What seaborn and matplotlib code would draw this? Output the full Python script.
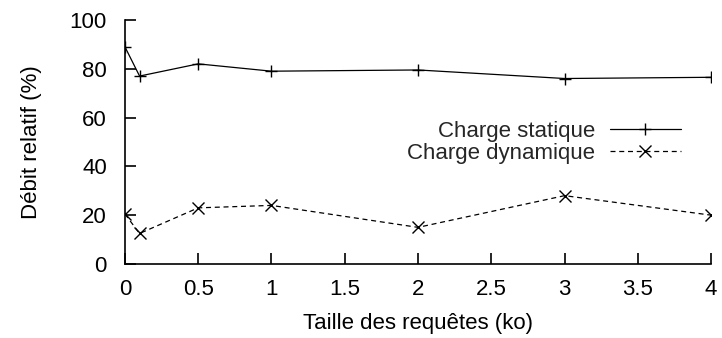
import matplotlib
matplotlib.use("Agg")
import matplotlib.pyplot as plt
import seaborn as sns
import pandas as pd

# Request size (ko) and relative throughput (%) for each load type
taille = [0, 0.1, 0.5, 1, 2, 3, 4]
statique = [89, 77, 82, 79, 79.5, 76, 76.5]
dynamique = [20.5, 12.5, 23, 24, 15, 28, 20]
xticks = [0, 0.5, 1, 1.5, 2, 2.5, 3, 3.5, 4]
xtick_labels = ["0", "0.5", "1", "1.5", "2", "2.5", "3", "3.5", "4"]
yticks = [0, 20, 40, 60, 80, 100]

sns.set_theme(style="ticks")
plt.rcParams["font.family"] = ["Liberation Sans", "DejaVu Sans"]

df_s = pd.DataFrame({"x": taille, "y": statique})
df_d = pd.DataFrame({"x": taille, "y": dynamique})

fig = plt.figure(figsize=(7.22, 3.38), dpi=100)
ax = fig.add_axes([0.173, 0.219, 0.812, 0.722])

sns.lineplot(data=df_s, x="x", y="y", ax=ax, color="black", linewidth=0.9,
             marker="+", markersize=8, markeredgewidth=1.0,
             markeredgecolor="black", markerfacecolor="black",
             label="Charge statique", sort=False)
sns.lineplot(data=df_d, x="x", y="y", ax=ax, color="black", linewidth=0.9,
             marker="x", markersize=8.5, markeredgewidth=1.0,
             markeredgecolor="black", markerfacecolor="black",
             label="Charge dynamique", sort=False)
ax.lines[1].set_dashes([4, 3])

ax.set_xlim(0, 4)
ax.set_ylim(0, 100)
ax.set_xticks(xticks)
ax.set_xticklabels(xtick_labels)
ax.set_yticks(yticks)
ax.tick_params(direction="in", length=8, width=1.2, labelsize=16, colors="black")
ax.tick_params(axis="x", pad=11)
ax.tick_params(axis="y", pad=13)
for side in ("top", "right"):
    ax.spines[side].set_visible(False)
for side in ("left", "bottom"):
    ax.spines[side].set_linewidth(1.2)
    ax.spines[side].set_color("black")

ax.set_xlabel("Taille des requêtes (ko)", fontsize=16, color="black", labelpad=9)
ax.set_ylabel("Débit relatif (%)", fontsize=16, color="black", labelpad=20)

leg = ax.legend(loc="center right", bbox_to_anchor=(0.967, 0.498), frameon=False,
                markerfirst=False, fontsize=16, handlelength=3.2,
                labelspacing=0.05, handletextpad=0.65, borderpad=0)
for t in leg.get_texts():
    t.set_ha("right")
leg._legend_box.align = "right"
for h in leg.legend_handles:
    h.set_color("black")
    h.set_markeredgecolor("black")

fig.savefig("out.png", dpi=100)
